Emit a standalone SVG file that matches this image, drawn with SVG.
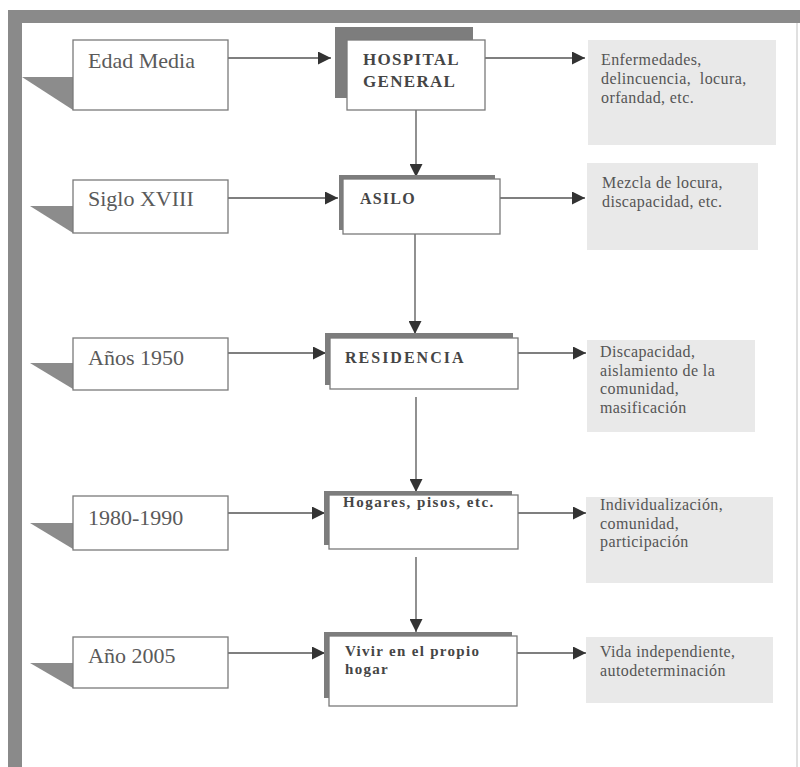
<svg xmlns="http://www.w3.org/2000/svg" width="800" height="767" viewBox="0 0 800 767">
  <style>
    .era { fill: #ffffff; stroke: #7a7a7a; stroke-width: 1.3; }
    .tab { fill: #8c8c8c; }
    .inst { fill: #ffffff; stroke: #7a7a7a; stroke-width: 1.3; }
    .shadow { fill: #7d7d7d; }
    .note { fill: #e9e9e9; }
    .era-txt { font-family: "Liberation Serif", "Times New Roman", serif; font-size: 22px; fill: #5a5a5a; }
    .inst-txt { font-family: "Liberation Serif", "Times New Roman", serif; font-weight: bold; fill: #454545; }
    .note-txt { font-family: "Liberation Serif", "Times New Roman", serif; font-size: 16px; letter-spacing: 0.4px; fill: #555555; }
    .conn { fill: none; stroke: #555555; stroke-width: 1.3; marker-end: url(#arrow); }
  </style>
  <defs>
    <marker id="arrow" markerUnits="userSpaceOnUse" markerWidth="14" markerHeight="13" refX="13" refY="6.5" orient="auto">
      <path d="M0,0 L13,6.5 L0,13 z" fill="#333333"/>
    </marker>
  </defs>

  <rect width="800" height="767" fill="#ffffff"/>

  <!-- page frame: heavy top and left rules, light right edge -->
  <g id="frame">
    <rect x="8" y="10" width="792" height="13" fill="#8a8a8a"/>
    <rect x="8" y="10" width="14" height="757" fill="#8a8a8a"/>
    <line x1="797" y1="23" x2="797" y2="767" stroke="#d6d6d6" stroke-width="1.5"/>
  </g>

  <!-- connectors -->
  <g id="connectors">
    <path class="conn" d="M228,58 H331"/>
    <path class="conn" d="M485,58 H585"/>
    <path class="conn" d="M416,110 V177"/>
    <path class="conn" d="M228,198 H338"/>
    <path class="conn" d="M500,198 H585"/>
    <path class="conn" d="M415,234 V334"/>
    <path class="conn" d="M228,353 H326"/>
    <path class="conn" d="M518,353 H586"/>
    <path class="conn" d="M416,397 V492"/>
    <path class="conn" d="M228,513 H325"/>
    <path class="conn" d="M518,513 H586"/>
    <path class="conn" d="M416,557 V632"/>
    <path class="conn" d="M228,653 H325"/>
    <path class="conn" d="M517,653 H586"/>
  </g>

  <!-- period labels -->
  <g id="era-edad-media">
    <polygon class="tab" points="22,77 73,77 73,110"/>
    <rect class="era" x="73" y="40" width="155" height="70"/>
    <text class="era-txt" x="88" y="68">Edad Media</text>
  </g>
  <g id="era-siglo-xviii">
    <polygon class="tab" points="30,206 73,206 73,233"/>
    <rect class="era" x="73" y="180" width="155" height="53"/>
    <text class="era-txt" x="88" y="206">Siglo XVIII</text>
  </g>
  <g id="era-1950">
    <polygon class="tab" points="30,363 73,363 73,389"/>
    <rect class="era" x="73" y="338" width="155" height="52"/>
    <text class="era-txt" x="88" y="365">Años 1950</text>
  </g>
  <g id="era-1980">
    <polygon class="tab" points="30,523 73,523 73,549"/>
    <rect class="era" x="73" y="496" width="155" height="54"/>
    <text class="era-txt" x="88" y="525">1980-1990</text>
  </g>
  <g id="era-2005">
    <polygon class="tab" points="30,663 73,663 73,688"/>
    <rect class="era" x="73" y="637" width="155" height="51"/>
    <text class="era-txt" x="88" y="663">Año 2005</text>
  </g>

  <!-- institutions -->
  <g id="inst-hospital">
    <rect class="shadow" x="335" y="27" width="138" height="71"/>
    <rect class="inst" x="347" y="40" width="138" height="70"/>
    <text class="inst-txt" x="363" y="65" font-size="17" letter-spacing="1.3">HOSPITAL</text>
    <text class="inst-txt" x="363" y="87" font-size="17" letter-spacing="1.3">GENERAL</text>
  </g>
  <g id="inst-asilo">
    <rect class="shadow" x="339" y="175" width="156" height="55"/>
    <rect class="inst" x="343" y="179" width="157" height="55"/>
    <text class="inst-txt" x="360" y="204" font-size="16" letter-spacing="1.2">ASILO</text>
  </g>
  <g id="inst-residencia">
    <rect class="shadow" x="325" y="333" width="188" height="52"/>
    <rect class="inst" x="330" y="338" width="188" height="51"/>
    <text class="inst-txt" x="345" y="363" font-size="16" letter-spacing="2">RESIDENCIA</text>
  </g>
  <g id="inst-hogares">
    <rect class="shadow" x="324" y="491" width="188" height="54"/>
    <rect class="inst" x="329" y="495" width="189" height="54"/>
    <text class="inst-txt" x="343" y="507" font-size="15" letter-spacing="1.5">Hogares, pisos, etc.</text>
  </g>
  <g id="inst-propio-hogar">
    <rect class="shadow" x="324" y="632" width="188" height="66"/>
    <rect class="inst" x="329" y="636" width="188" height="70"/>
    <text class="inst-txt" x="345" y="656" font-size="15" letter-spacing="1.3">Vivir en el propio</text>
    <text class="inst-txt" x="345" y="674" font-size="15" letter-spacing="1.3">hogar</text>
  </g>

  <!-- characteristics -->
  <g id="note-hospital">
    <rect class="note" x="588" y="40" width="188" height="105"/>
    <text class="note-txt" x="601" y="65">Enfermedades,</text>
    <text class="note-txt" x="601" y="84" xml:space="preserve">delincuencia,  locura,</text>
    <text class="note-txt" x="601" y="103">orfandad, etc.</text>
  </g>
  <g id="note-asilo">
    <rect class="note" x="587" y="163" width="171" height="87"/>
    <text class="note-txt" x="602" y="188">Mezcla de locura,</text>
    <text class="note-txt" x="602" y="207">discapacidad, etc.</text>
  </g>
  <g id="note-residencia">
    <rect class="note" x="587" y="340" width="168" height="92"/>
    <text class="note-txt" x="600" y="357">Discapacidad,</text>
    <text class="note-txt" x="600" y="375.5">aislamiento de la</text>
    <text class="note-txt" x="600" y="394">comunidad,</text>
    <text class="note-txt" x="600" y="412.5">masificación</text>
  </g>
  <g id="note-hogares">
    <rect class="note" x="586" y="497" width="187" height="86"/>
    <text class="note-txt" x="600" y="510">Individualización,</text>
    <text class="note-txt" x="600" y="528.5">comunidad,</text>
    <text class="note-txt" x="600" y="547">participación</text>
  </g>
  <g id="note-propio-hogar">
    <rect class="note" x="586" y="637" width="187" height="66"/>
    <text class="note-txt" x="600" y="657">Vida independiente,</text>
    <text class="note-txt" x="600" y="675.5">autodeterminación</text>
  </g>
</svg>
